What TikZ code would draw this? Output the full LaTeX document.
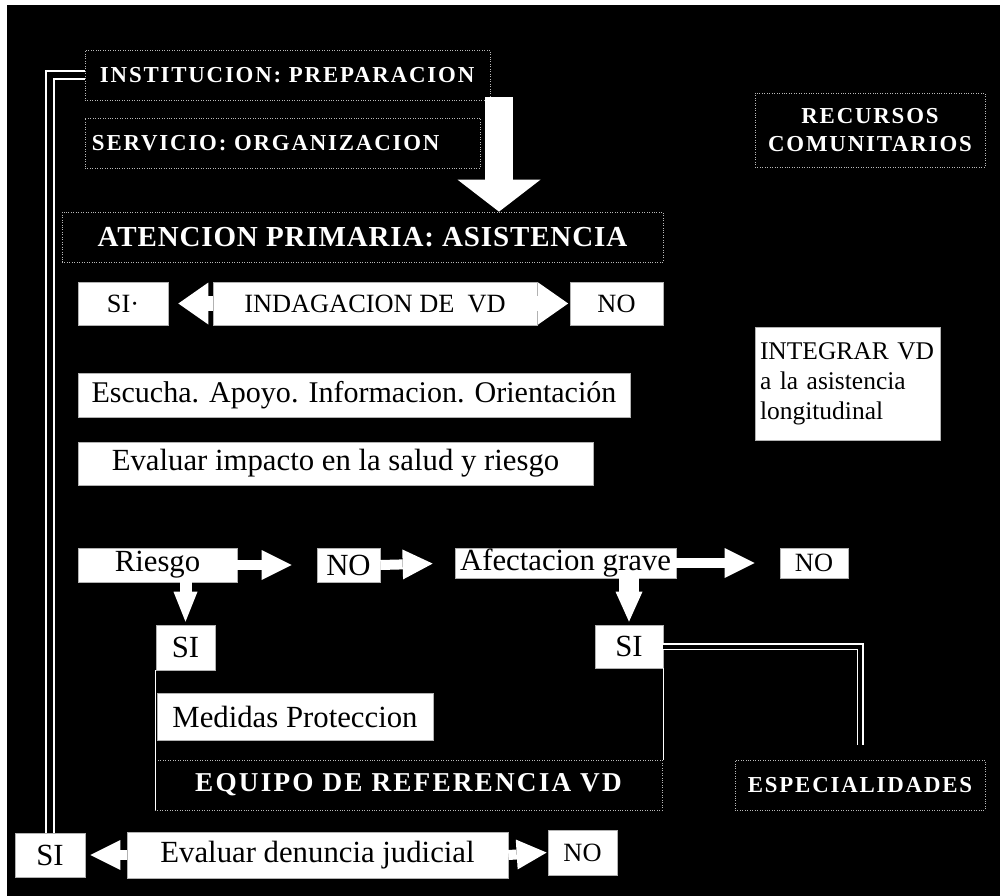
\documentclass[tikz,border=0pt]{standalone}
\usepackage{fontspec}
\setmainfont{Liberation Serif}
\newfontfamily\headfnt[LetterSpace=8]{Liberation Serif}
\newfontfamily\headfntb[LetterSpace=3]{Liberation Serif}
\usetikzlibrary{arrows.meta, calc}

\newcommand{\hdA}{\headfnt\bfseries\fontsize{13}{16}\selectfont}
\newcommand{\hdB}{\headfntb\bfseries\fontsize{16.5}{19}\selectfont}
\newcommand{\hdC}{\headfnt\bfseries\fontsize{15.5}{18}\selectfont}
\newcommand{\bxA}{\fontsize{17.5}{20}\selectfont}
\newcommand{\bxB}{\fontsize{15}{17}\selectfont}

\begin{document}
\begin{tikzpicture}[x=0.2mm, y=-0.2mm]
    \tikzstyle{wbox} = [draw=gray!60, fill=white, text=black, inner sep=0pt, font=\bxA]
    \tikzstyle{dbox} = [draw=gray!55, densely dotted, text=white, inner sep=0pt, align=center]
    \tikzstyle{blk} = [white, line width=3mm,
	-{Triangle[length=6mm, width=8.4mm, line width=0pt]}]
    \tikzstyle{blks} = [white, line width=2mm,
	-{Triangle[length=6mm, width=6mm, line width=0pt]}]
    \tikzstyle{bigarr} = [white, line width=5.6mm,
	-{Triangle[length=6.4mm, width=16.6mm, line width=0pt]}]
    \tikzstyle{frame} = [draw=white, double=black, double distance=1.2mm, line width=0.35mm]
    \tikzstyle{link} = [draw=white, line width=0.3mm]

	% fondo
	\useasboundingbox[fill=white] (0,0) rectangle (1000,896);
	\fill[black] (7,5) rectangle (1000,896);

	% bloques oscuros
	\path
		node[dbox, minimum width=81mm, minimum height=10mm, text width=75mm,
			align=left, inner xsep=3mm, font=\hdA] (inst) at (287.5,75)
			{INSTITUCION: PREPARACION}
		node[dbox, minimum width=79mm, minimum height=10mm, text width=76.2mm,
			align=left, inner xsep=1.4mm, font=\hdA] (serv) at (282.5,143)
			{SERVICIO: ORGANIZACION}
		node[dbox, minimum width=120.2mm, minimum height=10mm, font=\hdB] (aten)
			at (362.5,237) {ATENCION PRIMARIA: ASISTENCIA}
		node[dbox, minimum width=46mm, minimum height=14.8mm, font=\hdA] (recur)
			at (870,130) {RECURSOS\\COMUNITARIOS}
		node[dbox, minimum width=101.4mm, minimum height=10mm, font=\hdC] (equipo)
			at (408.5,785) {EQUIPO DE REFERENCIA VD}
		node[dbox, minimum width=50mm, minimum height=10mm, font=\hdA] (espec)
			at (860,785) {ESPECIALIDADES}
	;

	% cajas blancas
	\path
		node[wbox, minimum width=18mm, minimum height=8.6mm, font=\bxB] (si1)
			at (123,303.5) {SI·}
		node[wbox, minimum width=64.8mm, minimum height=8.6mm, font=\bxB] (indag)
			at (375,303.5) {INDAGACION DE\ \ VD}
		node[wbox, minimum width=18.6mm, minimum height=8.6mm, font=\bxB] (no1)
			at (616.5,303.5) {NO}
		node[wbox, minimum width=110.4mm, minimum height=8.8mm,
			font=\fontsize{17.1}{20}\selectfont] (escucha)
			at (354,395) {Escucha. Apoyo. Informacion. Orientación}
		node[wbox, minimum width=103mm, minimum height=8.6mm] (evaluar)
			at (335.5,463.5) {Evaluar impacto en la salud y riesgo}
		node[wbox, minimum width=37mm, minimum height=22.6mm, text width=35mm,
			inner xsep=1mm, align=left, font=\fontsize{14.5}{17}\selectfont] (integ)
			at (847.5,383.5) {INTEGRAR VD\\a la asistencia\\longitudinal\\[3mm]}
		node[wbox, minimum width=31.8mm, minimum height=6.8mm] (riesgo)
			at (157.5,565) {Riesgo}
		node[wbox, minimum width=12.6mm, minimum height=6.8mm] (no2)
			at (348.5,565) {NO}
		node[wbox, minimum width=44.2mm, minimum height=6mm] (afect)
			at (565.5,563) {Afectacion grave}
		node[wbox, minimum width=13.6mm, minimum height=6mm, font=\bxB] (no3)
			at (814,563) {NO}
		node[wbox, minimum width=11.8mm, minimum height=9mm] (si2)
			at (185.5,647.5) {SI}
		node[wbox, minimum width=13.6mm, minimum height=8.6mm] (si3)
			at (629,646.5) {SI}
		node[wbox, minimum width=55.2mm, minimum height=9.4mm] (medidas)
			at (295,716.5) {Medidas Proteccion}
		node[wbox, minimum width=14mm, minimum height=8.8mm] (si4)
			at (50,855) {SI}
		node[wbox, minimum width=76.2mm, minimum height=9.2mm] (evden)
			at (317.5,855) {Evaluar denuncia judicial}
		node[wbox, minimum width=13.8mm, minimum height=9mm, font=\bxB] (no4)
			at (582.5,852.5) {NO}
	;

	% enlaces
	\draw[frame] (si4.north) |- (inst.west);
	\draw[frame, double distance=0.8mm, line width=0.3mm, shorten >=3mm]
		(si3.east) -| (espec.north);
	\draw[link] (si3.south east) -- (si3.south east |- equipo.north);
	\draw[link] (si2.south west) -- (si2.south west |- equipo.south);

	% flechas
	\coordinate (bigtop) at (499,97);
	\draw[bigarr] (bigtop) -- (bigtop |- aten.north);

	\path
		(indag.west) edge[blk, shorten >=2mm] (si1.east)
		(indag.east) edge[blk, shorten >=0.3mm] (no1.west)
		(riesgo.east) edge[blks, shorten >=5mm] (no2.west)
		(no2.east) edge[blks, shorten >=4.4mm] (afect.west)
		(afect.east) edge[blks, shorten >=5mm] (no3.west)
		(riesgo.south -| si2.north) edge[blks, line width=2.4mm,
			-{Triangle[length=6mm, width=4.8mm, line width=0pt]},
			shorten >=0.6mm] (si2.north)
		(afect.south -| si3.north) edge[blks, line width=4mm,
			-{Triangle[length=6mm, width=5.4mm, line width=0pt]},
			shorten >=0.6mm] (si3.north)
		(evden.west) edge[blks, shorten >=1mm] (si4.east)
		(evden.east) edge[blks, shorten >=0.2mm] (no4.west)
	;
\end{tikzpicture}
\end{document}
